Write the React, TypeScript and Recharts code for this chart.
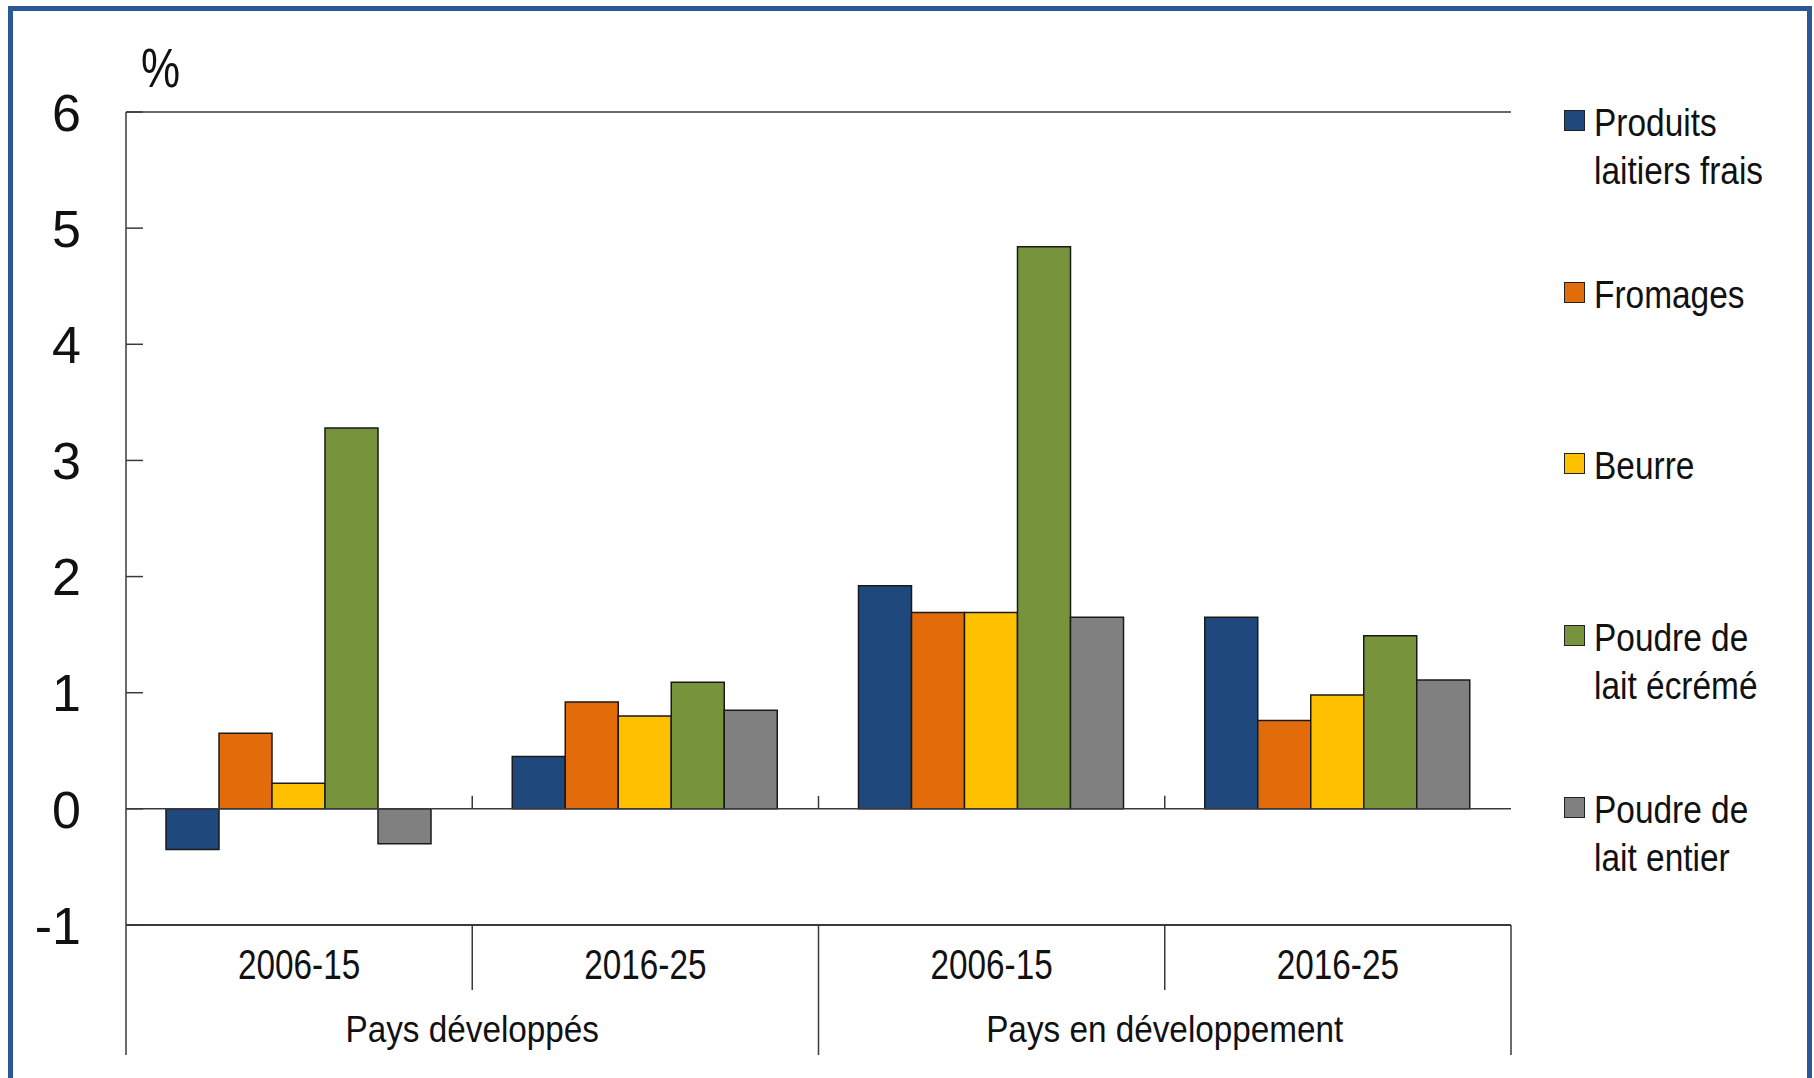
import { Bar, BarChart, ReferenceLine, XAxis, YAxis } from 'recharts';

const periods = ['2006-15', '2016-25', '2006-15', '2016-25'];
const regions = ['Pays développés', 'Pays en développement'];

const freshDairy = [-0.35, 0.45, 1.92, 1.65];
const cheese = [0.65, 0.92, 1.69, 0.76];
const butter = [0.22, 0.8, 1.69, 0.98];
const skimMilkPowder = [3.28, 1.09, 4.84, 1.49];
const wholeMilkPowder = [-0.3, 0.85, 1.65, 1.11];

const yTicks = [-1, 0, 1, 2, 3, 4, 5, 6];

const series = [
  { key: 'fresh', name: 'Produits\nlaitiers frais', color: '#1f497d', values: freshDairy },
  { key: 'cheese', name: 'Fromages', color: '#e36c0a', values: cheese },
  { key: 'butter', name: 'Beurre', color: '#ffc000', values: butter },
  { key: 'smp', name: 'Poudre de\nlait écrémé', color: '#77933c', values: skimMilkPowder },
  { key: 'wmp', name: 'Poudre de\nlait entier', color: '#808080', values: wholeMilkPowder },
];

const data = periods.map((period, i) => {
  const row: Record<string, string | number> = { id: `${i}`, period };
  series.forEach((s) => {
    row[s.key] = s.values[i];
  });
  return row;
});

const FONT = '"Liberation Sans", Arial, sans-serif';
const AXIS = '#3a3a3a';

// the original uses a condensed face, so squeeze Liberation Sans horizontally
function CategoryTick(props: any) {
  const { x, y, payload, index, width } = props;
  const half = payload?.offset ?? width / (periods.length * 2);
  const first = index % 2 === 0;
  const last = index === periods.length - 1;
  return (
    <g>
      <line x1={x - half} x2={x - half} y1={y} y2={y + (first ? 130 : 65)} stroke={AXIS} strokeWidth={1.5} />
      {last && <line x1={x + half} x2={x + half} y1={y} y2={y + 130} stroke={AXIS} strokeWidth={1.5} />}
      <text
        transform={`translate(${x} ${y + 54}) scale(0.775 1)`}
        textAnchor="middle"
        fontFamily={FONT}
        fontSize={43}
        fill="#111"
      >
        {periods[index]}
      </text>
      {first && (
        <text
          transform={`translate(${x + half} ${y + 117}) scale(0.9 1)`}
          textAnchor="middle"
          fontFamily={FONT}
          fontSize={37}
          fill="#111"
        >
          {regions[index / 2]}
        </text>
      )}
    </g>
  );
}

function ValueTick(props: any) {
  const { x, y, payload } = props;
  return (
    <g>
      <line x1={x} x2={x + 17} y1={y} y2={y} stroke={AXIS} strokeWidth={1.5} />
      <text x={x - 45} y={y} dy="0.36em" textAnchor="end" fontFamily={FONT} fontSize={52} fill="#111">
        {payload.value}
      </text>
    </g>
  );
}

function ZeroLine(props: any) {
  const { x1, x2, y1 } = props;
  const step = (x2 - x1) / periods.length;
  return (
    <g>
      <line x1={x1} x2={x2} y1={y1} y2={y1} stroke={AXIS} strokeWidth={1.5} />
      {periods.slice(1).map((_, k) => (
        <line key={k} x1={x1 + step * (k + 1)} x2={x1 + step * (k + 1)} y1={y1 - 13} y2={y1} stroke={AXIS} strokeWidth={1.5} />
      ))}
    </g>
  );
}

export default function App() {
  return (
    <div style={{ position: 'absolute', left: 0, top: 0, width: 1814, height: 1078, overflow: 'hidden', background: '#fff' }}>
      <div
        style={{
          position: 'absolute',
          left: 8,
          top: 6,
          width: 1804,
          height: 1200,
          border: '5px solid #2b5797',
          boxSizing: 'border-box',
        }}
      />
      <div
        style={{
          position: 'absolute',
          left: 141,
          top: 41,
          fontFamily: FONT,
          fontSize: 55,
          lineHeight: 1,
          color: '#111',
          transform: 'scaleX(0.8)',
          transformOrigin: 'left top',
        }}
      >
        %
      </div>
      <div style={{ position: 'absolute', left: 0, top: 0 }}>
        <BarChart
          width={1814}
          height={1078}
          data={data}
          margin={{ top: 112, right: 303, bottom: 0, left: 0 }}
          barCategoryGap={40}
          barGap={0}
        >
          <XAxis
            dataKey="id"
            height={153}
            interval={0}
            tickSize={0}
            tickMargin={0}
            tickLine={false}
            axisLine={{ stroke: AXIS, strokeWidth: 2 }}
            tick={<CategoryTick />}
          />
          <YAxis
            width={126}
            domain={[-1, 6]}
            ticks={yTicks}
            interval={0}
            tickSize={0}
            tickMargin={0}
            tickLine={false}
            axisLine={{ stroke: AXIS, strokeWidth: 1.5 }}
            tick={<ValueTick />}
          />
          <YAxis
            yAxisId="right"
            orientation="right"
            width={0}
            domain={[-1, 6]}
            tick={false}
            tickLine={false}
            axisLine={{ stroke: AXIS, strokeWidth: 1.5 }}
          />
          <ReferenceLine y={6} stroke={AXIS} strokeWidth={1.5} />
          <ReferenceLine y={0} shape={<ZeroLine />} />
          {series.map((s) => (
            <Bar
              key={s.key}
              dataKey={s.key}
              fill={s.color}
              stroke="#1a1a1a"
              strokeWidth={1.5}
              isAnimationActive={false}
            />
          ))}
        </BarChart>
      </div>
      {series.map((s, i) => (
        <div key={s.key} style={{ position: 'absolute', left: 1564, top: 99 + i * 171.7 }}>
          <div
            style={{
              position: 'absolute',
              left: 0,
              top: 11,
              width: 21,
              height: 21,
              background: s.color,
              border: '1.5px solid #222',
              boxSizing: 'border-box',
            }}
          />
          <div
            style={{
              marginLeft: 30,
              fontFamily: FONT,
              fontSize: 38,
              lineHeight: '48px',
              whiteSpace: 'pre',
              color: '#111',
              transform: 'scaleX(0.88)',
              transformOrigin: 'left top',
            }}
          >
            {s.name}
          </div>
        </div>
      ))}
    </div>
  );
}
